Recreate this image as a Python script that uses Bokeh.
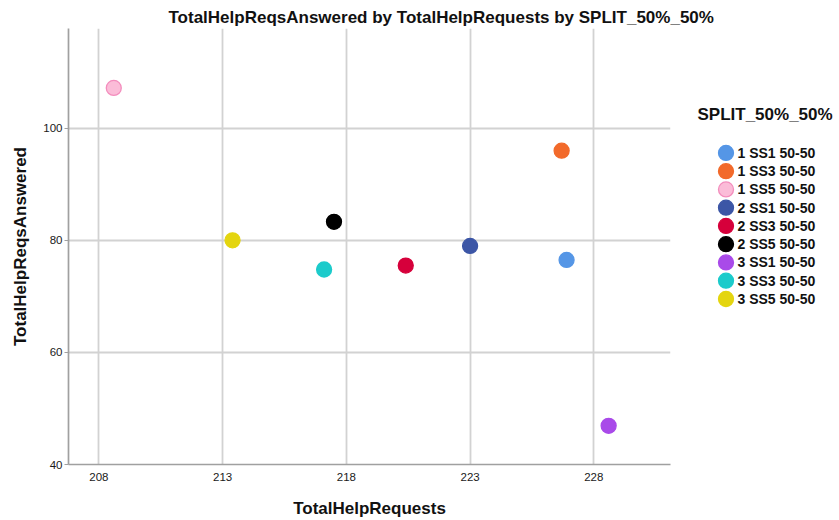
from bokeh.plotting import figure
from bokeh.layouts import column, row
from bokeh.models import ColumnDataSource, Range1d, FixedTicker
from bokeh.core.properties import value
from bokeh.embed import file_html
from bokeh.resources import INLINE

# ---- data ----
groups = ["1 SS1 50-50", "1 SS3 50-50", "1 SS5 50-50",
          "2 SS1 50-50", "2 SS3 50-50", "2 SS5 50-50",
          "3 SS1 50-50", "3 SS3 50-50", "3 SS5 50-50"]
requests = [226.9, 226.7, 208.6, 223.0, 220.4, 217.5, 228.6, 217.1, 213.4]
answered = [76.5, 96.0, 107.2, 79.0, 75.5, 83.3, 46.9, 74.8, 80.0]
fill_colors = ["#5596e6", "#f26a2b", "#fbbcd8", "#3c56a6", "#d6003b",
               "#000000", "#a94ae9", "#1ccbcb", "#e4d50f"]
line_colors = ["#5596e6", "#f26a2b", "#f38dbd", "#3c56a6", "#d6003b",
               "#000000", "#a94ae9", "#1ccbcb", "#e4d50f"]
x_ticks = [208, 213, 218, 223, 228]
y_ticks = [40, 60, 80, 100]
title_text = "TotalHelpReqsAnswered by TotalHelpRequests by SPLIT_50%_50%"
legend_title = "SPLIT_50%_50%"
x_label = "TotalHelpRequests"
y_label = "TotalHelpReqsAnswered"

FONT = "Liberation Sans"
TXT = "#111111"
W, H = 839, 520
TITLE_H = 28
MAIN_W = 680
FRAME_H = 437          # plotting frame height of the main chart


def bare_figure(width, height, x_end, y_start):
    fig = figure(width=width, height=height, output_backend="svg",
                 toolbar_location=None, x_axis_location=None,
                 y_axis_location=None, x_range=Range1d(0, x_end),
                 y_range=Range1d(y_start, 0), min_border_left=0,
                 min_border_right=0, min_border_top=0, min_border_bottom=0)
    fig.grid.visible = False
    fig.outline_line_color = None
    fig.background_fill_color = "white"
    fig.border_fill_color = "white"
    return fig


# ---- title strip ----
tfig = bare_figure(W, TITLE_H, W, TITLE_H)
tfig.text(x=[168], y=[17], text=[title_text], text_font=value(FONT),
          text_font_size="17px", text_font_style="bold", text_color=TXT,
          text_align="left", text_baseline="middle")

# ---- main scatter ----
p = figure(width=MAIN_W, height=H - TITLE_H, output_backend="svg",
           toolbar_location=None,
           x_range=Range1d(206.77, 231.1), y_range=Range1d(40, 117.8),
           min_border_left=68, min_border_right=MAIN_W - 670,
           min_border_top=0, min_border_bottom=H - TITLE_H - FRAME_H)
p.outline_line_color = None
p.background_fill_color = "white"
p.border_fill_color = "white"

for ax in (p.xaxis[0], p.yaxis[0]):
    ax.axis_line_color = "#a0a0a0"
    ax.axis_line_width = 1.7
    ax.major_tick_line_color = "#a0a0a0"
    ax.minor_tick_line_color = None
    ax.major_tick_in = 0
    ax.major_label_text_font = FONT
    ax.major_label_text_font_size = "11.5px"
    ax.major_label_text_color = "#1a1a1a"
    ax.axis_label_text_font = FONT
    ax.axis_label_text_font_size = "17px"
    ax.axis_label_text_font_style = "bold"
    ax.axis_label_text_color = TXT
p.xaxis[0].ticker = FixedTicker(ticks=x_ticks)
p.yaxis[0].ticker = FixedTicker(ticks=y_ticks)
p.xaxis[0].major_tick_out = 0
p.xaxis[0].major_label_standoff = 8
p.xaxis[0].axis_label = x_label
p.xaxis[0].axis_label_standoff = 15
p.yaxis[0].major_tick_out = 4
p.yaxis[0].major_label_standoff = 2
p.yaxis[0].axis_label = y_label
p.yaxis[0].axis_label_standoff = 10

p.xgrid[0].ticker = FixedTicker(ticks=x_ticks)
p.ygrid[0].ticker = FixedTicker(ticks=y_ticks)
for g in (p.xgrid[0], p.ygrid[0]):
    g.grid_line_color = "#d2d2d2"
    g.grid_line_width = 1.8

src = ColumnDataSource(dict(x=requests, y=answered, fill=fill_colors,
                            line=line_colors, group=groups))
p.scatter("x", "y", source=src, size=15, marker="circle",
          fill_color="fill", line_color="line", line_width=1.3)

# ---- legend panel (its frame is aligned with the main frame) ----
LEG_W = W - MAIN_W
lfig = bare_figure(LEG_W, H - TITLE_H, LEG_W, FRAME_H)
first_row, row_step = 124.7, 18.3
lsrc = ColumnDataSource(dict(
    gx=[45.5] * len(groups), tx=[57.0] * len(groups),
    y=[first_row + i * row_step for i in range(len(groups))],
    fill=fill_colors, line=line_colors, label=groups))
lfig.scatter("gx", "y", source=lsrc, size=15, marker="circle",
             fill_color="fill", line_color="line", line_width=1.3)
lfig.text("tx", "y", text="label", source=lsrc, text_font=value(FONT),
          text_font_size="14px", text_font_style="bold", text_color=TXT,
          text_align="left", text_baseline="middle")
lfig.text(x=[17], y=[86.5], text=[legend_title], text_font=value(FONT),
          text_font_size="17px", text_font_style="bold", text_color=TXT,
          text_align="left", text_baseline="middle")

layout = column(tfig, row(p, lfig, spacing=0), spacing=0)
open("out.html", "w").write(file_html(layout, INLINE))
